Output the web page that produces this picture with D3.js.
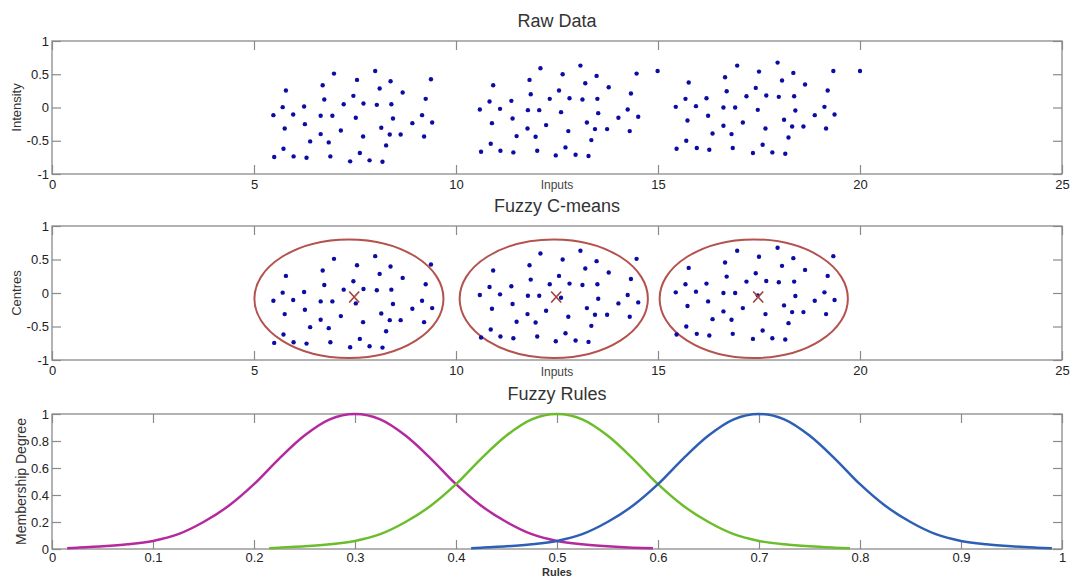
<!DOCTYPE html>
<html>
<head>
<meta charset="utf-8">
<script src="https://cdn.jsdelivr.net/npm/d3@7"></script>
<style>
  body { margin: 0; background: #fff; }
  svg { font-family: "Liberation Sans", Arial, sans-serif; }
</style>
</head>
<body>
<svg id="chart" width="1073" height="578"></svg>
<script>
// raw points (x = input, y = intensity)
var clusterA = [[5.48,-0.115],[5.50,-0.745],[5.71,0.005],[5.79,0.255],[5.76,-0.315],[5.73,-0.62],[5.97,-0.105],[5.98,-0.735],
  [6.24,0.015],[6.26,-0.25],[6.30,-0.755],[6.39,-0.51],[6.70,0.335],[6.74,0.12],[6.65,-0.125],[6.65,-0.40],[6.85,-0.525],
  [6.89,-0.735],[6.94,-0.125],[6.98,0.51],[7.15,-0.345],[7.22,0.05],[7.38,-0.81],[7.46,0.175],[7.52,-0.155],[7.55,0.415],
  [7.62,-0.685],[7.70,-0.435],[7.71,0.06],[7.86,-0.795],[8.00,0.55],[8.04,0.04],[8.11,0.285],[8.15,-0.305],[8.18,-0.815],
  [8.27,-0.57],[8.36,-0.405],[8.38,0.395],[8.40,0.05],[8.44,-0.165],[8.63,-0.405],[8.68,0.225],[8.92,-0.235],[9.16,-0.115],
  [9.21,-0.435],[9.25,0.13],[9.38,0.425],[9.41,-0.225]];
var clusterB = [[10.59,-0.03],[10.62,-0.665],[10.83,0.09],[10.86,-0.545],[10.89,-0.235],[10.92,0.335],[11.09,-0.02],[11.10,-0.65],
  [11.37,0.10],[11.40,-0.165],[11.42,-0.675],[11.50,-0.43],[11.77,-0.315],[11.78,-0.04],[11.82,0.415],[11.85,0.20],[11.97,-0.44],
  [12.01,-0.65],[12.06,-0.04],[12.09,0.59],[12.23,-0.265],[12.32,0.13],[12.47,-0.72],[12.55,0.255],[12.60,-0.07],[12.64,0.50],
  [12.71,-0.60],[12.78,-0.355],[12.81,0.14],[12.96,-0.71],[13.08,0.63],[13.13,0.12],[13.20,0.365],[13.24,-0.225],[13.28,-0.73],
  [13.35,-0.49],[13.44,-0.325],[13.48,0.475],[13.50,0.13],[13.52,-0.085],[13.74,-0.325],[13.78,0.305],[14.02,-0.155],
  [14.25,-0.03],[14.30,-0.355],[14.33,0.21],[14.47,0.51],[14.51,-0.14]];
var clusterC = [[15.44,0.01],[15.46,-0.62],[15.68,0.13],[15.70,-0.50],[15.73,-0.195],[15.76,0.375],[15.94,0.02],[15.96,-0.61],
  [16.20,0.14],[16.24,-0.125],[16.27,-0.635],[16.35,-0.39],[16.62,-0.275],[16.62,0.00],[16.66,0.455],[16.70,0.245],[16.82,-0.40],
  [16.85,-0.61],[16.91,0.00],[16.96,0.63],[17.10,-0.225],[17.19,0.17],[17.35,-0.685],[17.42,0.295],[17.47,-0.035],[17.50,0.54],
  [17.59,-0.56],[17.66,-0.315],[17.68,0.18],[17.83,-0.675],[17.96,0.675],[17.99,0.16],[18.07,0.405],[18.12,-0.185],[18.15,-0.695],
  [18.23,-0.45],[18.32,-0.285],[18.35,0.52],[18.37,0.17],[18.40,-0.045],[18.60,-0.285],[18.64,0.345],[18.88,-0.115],[19.12,0.01],
  [19.16,-0.315],[19.20,0.255],[19.34,0.55],[19.37,-0.105]];
var outliers = [[14.99,0.55],[20.0,0.55]];

// fuzzy c-means result
var centresX = [7.48, 12.48, 17.48];
var centresY = [-0.06, -0.06, -0.06];
var ellipseCx = [7.35, 12.42, 17.37];
var ellipseCy = [-0.085, -0.085, -0.085];
var ellipseRx = [2.34, 2.33, 2.33];
var ellipseRy = [0.885, 0.885, 0.885];

// membership curves
var ruleMagenta = [[0.015,0.005],[0.025,0.01],[0.05,0.02],[0.075,0.035],[0.1,0.06],[0.125,0.11],[0.15,0.2],[0.175,0.32],
  [0.2,0.48],[0.225,0.67],[0.25,0.84],[0.275,0.96],[0.3,1],[0.325,0.96],[0.35,0.84],[0.375,0.67],[0.4,0.48],[0.425,0.32],
  [0.45,0.2],[0.475,0.11],[0.5,0.06],[0.525,0.035],[0.55,0.02],[0.575,0.01],[0.595,0.005]];
var ruleGreen = [[0.215,0.005],[0.225,0.01],[0.25,0.02],[0.275,0.035],[0.3,0.06],[0.325,0.11],[0.35,0.2],[0.375,0.32],
  [0.4,0.48],[0.425,0.67],[0.45,0.84],[0.475,0.96],[0.5,1],[0.525,0.96],[0.55,0.84],[0.575,0.67],[0.6,0.48],[0.625,0.32],
  [0.65,0.2],[0.675,0.11],[0.7,0.06],[0.725,0.035],[0.75,0.02],[0.775,0.01],[0.79,0.005]];
var ruleBlue = [[0.415,0.005],[0.425,0.01],[0.45,0.02],[0.475,0.035],[0.5,0.06],[0.525,0.11],[0.55,0.2],[0.575,0.32],
  [0.6,0.48],[0.625,0.67],[0.65,0.84],[0.675,0.96],[0.7,1],[0.725,0.96],[0.75,0.84],[0.775,0.67],[0.8,0.48],[0.825,0.32],
  [0.85,0.2],[0.875,0.11],[0.9,0.06],[0.925,0.035],[0.95,0.02],[0.975,0.01],[0.99,0.005]];

var inputTicks = [0, 5, 10, 15, 20, 25];
var unitTicks = [-1, -0.5, 0, 0.5, 1];
var ruleTicks = [0, 0.1, 0.2, 0.3, 0.4, 0.5, 0.6, 0.7, 0.8, 0.9, 1];
var degreeTicks = [0, 0.2, 0.4, 0.6, 0.8, 1];

var left = 52, right = 1062;
var fontFam = '"Liberation Sans", Arial, sans-serif';
var svg = d3.select("#chart");

function panel(top, bottom, xDomain, xTicks, yDomain, yTicks, title, yLabel, yLabelX, yLabelSize, xPad) {
    var x = d3.scaleLinear().domain(xDomain).range([left, right]);
    var y = d3.scaleLinear().domain(yDomain).range([bottom, top]);
    var fmt = function(d) { return String(d) };

    var styleAxis = function(g) {
        g.attr("font-family", fontFam).attr("font-size", 13).attr("color", "#8a8a8a");
        g.select(".domain").remove();
        g.selectAll("line").attr("stroke-width", 1.2);
        g.selectAll("text").attr("fill", "#222");
    };

    svg.append("g")
        .attr("transform", "translate(0," + bottom + ")")
        .call(d3.axisBottom(x).tickValues(xTicks).tickFormat(fmt).tickSizeInner(-9).tickSizeOuter(0).tickPadding(xPad))
        .call(styleAxis);
    svg.append("g")
        .attr("transform", "translate(0," + top + ")")
        .call(d3.axisTop(x).tickValues(xTicks).tickFormat("").tickSizeInner(-9).tickSizeOuter(0))
        .call(styleAxis);
    svg.append("g")
        .attr("transform", "translate(" + left + ",0)")
        .call(d3.axisLeft(y).tickValues(yTicks).tickFormat(fmt).tickSizeInner(-9).tickSizeOuter(0).tickPadding(3))
        .call(styleAxis);
    svg.append("g")
        .attr("transform", "translate(" + right + ",0)")
        .call(d3.axisRight(y).tickValues(yTicks).tickFormat("").tickSizeInner(-9).tickSizeOuter(0))
        .call(styleAxis);

    svg.append("rect")
        .attr("x", left).attr("y", top)
        .attr("width", right - left).attr("height", bottom - top)
        .attr("fill", "none").attr("stroke", "#8a8a8a").attr("stroke-width", 1.3);

    svg.append("text")
        .attr("x", (left + right) / 2).attr("y", top - 14)
        .attr("text-anchor", "middle").attr("font-size", 18).attr("fill", "#333")
        .text(title);

    svg.append("text")
        .attr("transform", "translate(" + yLabelX + "," + ((top + bottom) / 2) + ") rotate(-90)")
        .attr("text-anchor", "middle").attr("dy", "0.35em")
        .attr("font-size", yLabelSize).attr("fill", "#333")
        .text(yLabel);

    return { x: x, y: y };
}

function dots(p, data) {
    svg.append("g").selectAll("circle")
        .data(data)
        .enter()
        .append("circle")
            .attr("cx", function(d) { return p.x(d[0]) })
            .attr("cy", function(d) { return p.y(d[1]) })
            .attr("r", 2.2)
            .attr("fill", "#0c0ca4");
}

// --- Raw Data
var p1 = panel(41, 174, [0, 25], inputTicks, [-1, 1], unitTicks, "Raw Data", "Intensity", 16, 13, 6);
dots(p1, clusterA.concat(clusterB, clusterC, outliers));
svg.append("text").attr("x", 557).attr("y", 189).attr("text-anchor", "middle")
    .attr("font-size", 12).attr("fill", "#444").text("Inputs");

// --- Fuzzy C-means
var p2 = panel(226, 360, [0, 25], inputTicks, [-1, 1], unitTicks, "Fuzzy C-means", "Centres", 16, 13, 6);
svg.append("g").selectAll("ellipse")
    .data(ellipseCx)
    .enter()
    .append("ellipse")
        .attr("cx", function(d) { return p2.x(d) })
        .attr("cy", function(d, i) { return p2.y(ellipseCy[i]) })
        .attr("rx", function(d, i) { return p2.x(d + ellipseRx[i]) - p2.x(d) })
        .attr("ry", function(d, i) { return p2.y(ellipseCy[i] - ellipseRy[i]) - p2.y(ellipseCy[i]) })
        .attr("fill", "none")
        .attr("stroke", "#b4524e")
        .attr("stroke-width", 2);
dots(p2, clusterA.concat(clusterB, clusterC));
svg.append("g").selectAll("path")
    .data(centresX)
    .enter()
    .append("path")
        .attr("d", function(d, i) {
            var cx = p2.x(d), cy = p2.y(centresY[i]);
            return "M" + (cx - 5) + "," + (cy - 5.5) + "L" + (cx + 5) + "," + (cy + 5.5) +
                   "M" + (cx + 5) + "," + (cy - 5.5) + "L" + (cx - 5) + "," + (cy + 5.5);
        })
        .attr("stroke", "#a3443c")
        .attr("stroke-width", 1.7)
        .attr("fill", "none");
svg.append("text").attr("x", 557).attr("y", 376).attr("text-anchor", "middle")
    .attr("font-size", 12).attr("fill", "#444").text("Inputs");

// --- Fuzzy Rules
var p3 = panel(414, 549, [0, 1], ruleTicks, [0, 1], degreeTicks, "Fuzzy Rules", "Membership Degree", 21, 14, 4);
var line = d3.line()
    .x(function(d) { return p3.x(d[0]) })
    .y(function(d) { return p3.y(d[1]) })
    .curve(d3.curveMonotoneX);
var rules = [ruleMagenta, ruleGreen, ruleBlue];
var ruleColors = ["#b42a9e", "#6cbd2c", "#2d60b4"];
svg.append("g").selectAll("path")
    .data(rules)
    .enter()
    .append("path")
        .attr("d", line)
        .attr("fill", "none")
        .attr("stroke", function(d, i) { return ruleColors[i] })
        .attr("stroke-width", 2.5);
svg.append("text").attr("x", 557).attr("y", 575.5).attr("text-anchor", "middle")
    .attr("font-size", 11).attr("font-weight", "bold").attr("fill", "#333").text("Rules");
</script>
</body>
</html>
